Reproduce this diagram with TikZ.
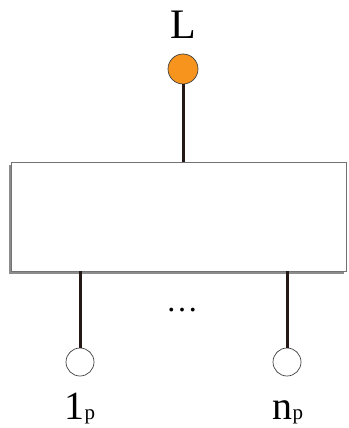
\documentclass[tikz,border=0pt]{standalone}
\usepackage{fontspec}
\setmainfont{Liberation Serif}
\usetikzlibrary{shadows}
\definecolor{wire}{HTML}{231815}
\definecolor{orng}{HTML}{F7941D}
\tikzset{
  wireline/.style={draw=wire, line width=3pt},
  port/.style={circle, draw=black!75, line width=0.7pt, fill=white, minimum size=28pt, inner sep=0pt},
  outport/.style={port, fill=orng, minimum size=30pt},
  box/.style={draw=black!55, line width=0.8pt, fill=white, minimum width=335pt, minimum height=109pt, inner sep=0pt,
     drop shadow={shadow xshift=-2.5pt, shadow yshift=-3pt, opacity=0.45, fill=black}},
  lbl/.style={inner sep=0pt, font=\fontsize{40}{42}\selectfont, anchor=base west}
}
\newcommand{\subp}{{\fontsize{21}{23}\selectfont p}}
\begin{document}
\begin{tikzpicture}[x=1pt,y=-1pt]
\useasboundingbox (0,0) rectangle (348,428);
\node[box] (B) at (178.5,216.5) {};
\node[outport] (L) at (183,69) {};
\node[inner sep=0pt, font=\fontsize{42}{44}\selectfont, anchor=base] (Lt) at (183,38.3) {L};
\draw[wireline] (L.south) -- (L.south |- B.north);
\node[port] (P1) at (80,362) {};
\node[port] (Pn) at (287,362) {};
\draw[wireline] (P1.north |- B.south) -- (P1.north);
\draw[wireline] (Pn.north |- B.south) -- (Pn.north);
\node[inner sep=0pt, font=\fontsize{32}{34}\selectfont, anchor=base] (dots) at (182,311) {…};
\node[lbl] (l1) at (64.5,419.5) {1\subp};
\node[lbl] (ln) at (272.5,419.5) {n\subp};
\end{tikzpicture}
\end{document}
